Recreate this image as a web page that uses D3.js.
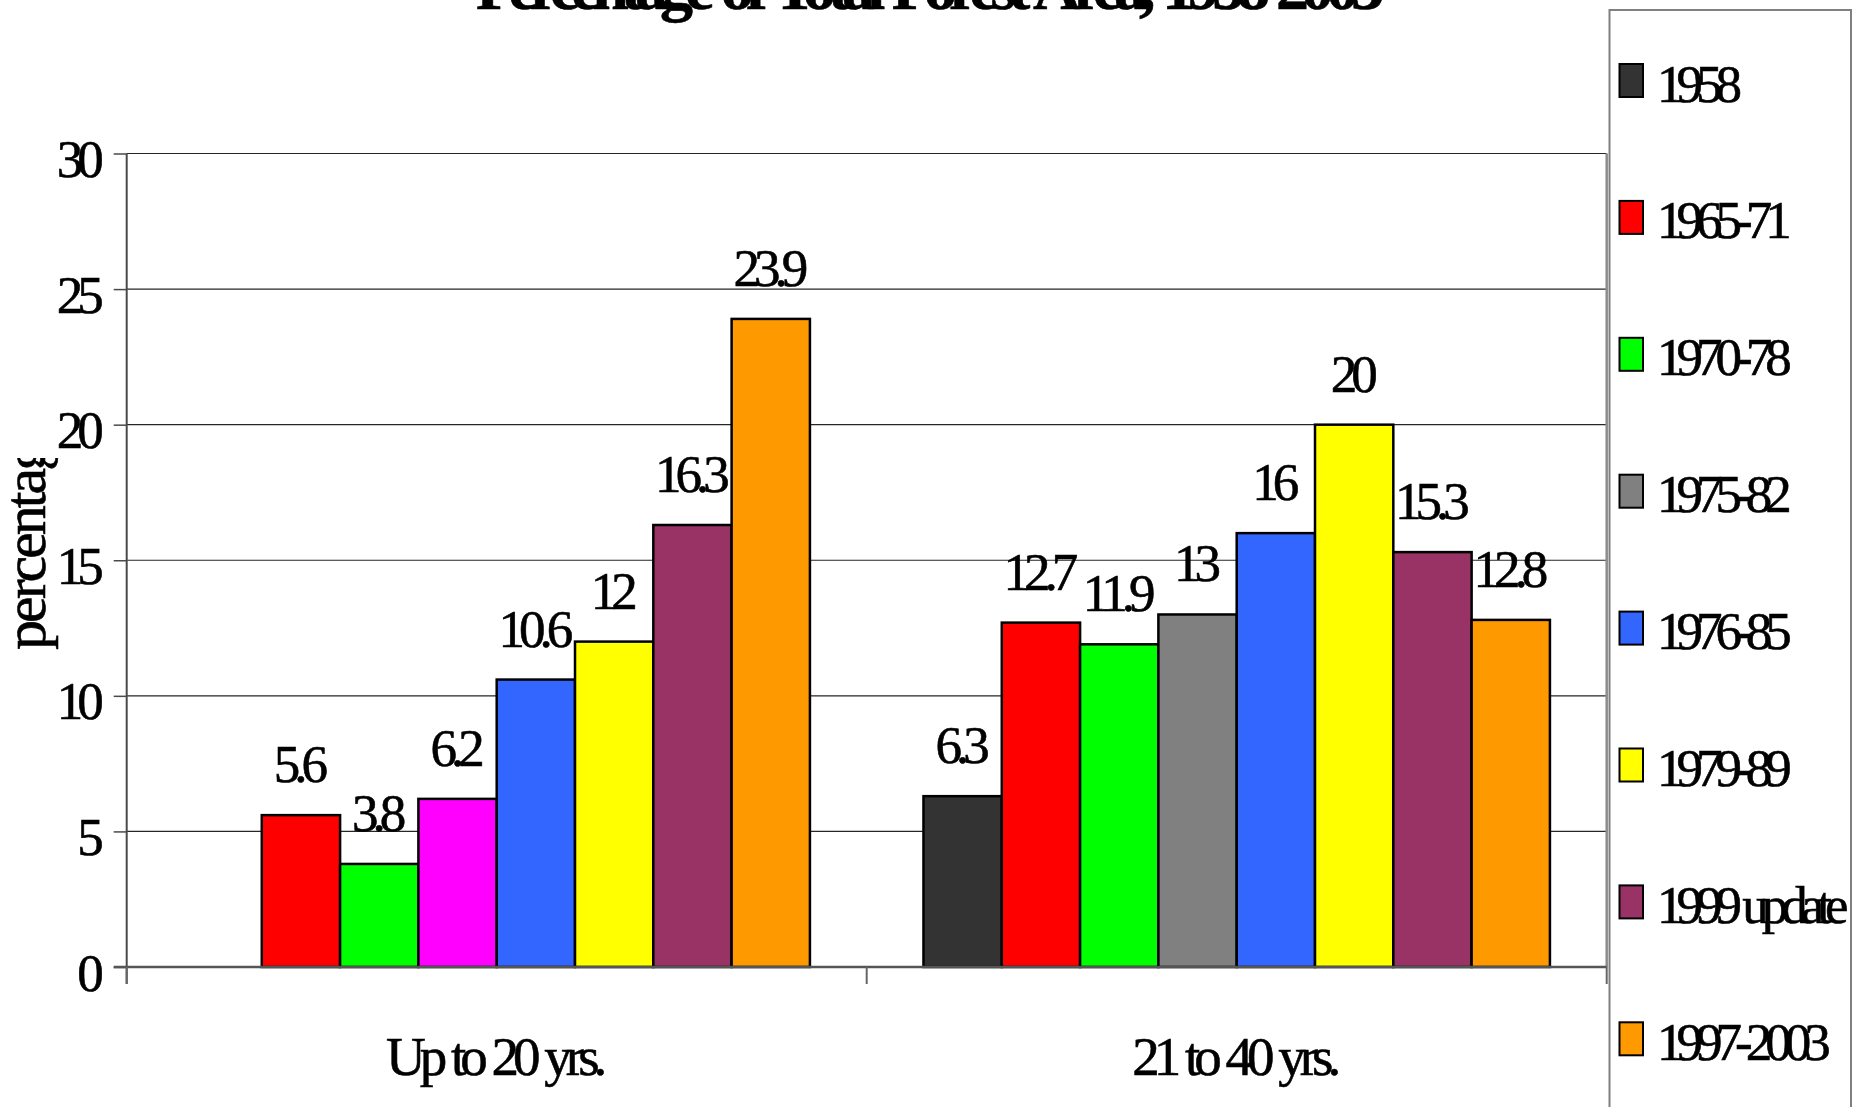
<!DOCTYPE html>
<html>
<head>
<meta charset="utf-8">
<script src="https://cdn.jsdelivr.net/npm/d3@7"></script>
<style>
  html, body { margin: 0; padding: 0; background: #ffffff; }
  svg { display: block; }
  text { font-family: "Liberation Serif", "Times New Roman", serif; fill: #000; stroke: #000; stroke-width: 0.6px; }
</style>
</head>
<body>
<svg id="chart" width="1856" height="1107"></svg>
<script>
// Forest area by age class, per inventory period
const chartTitle = "Percentage of Total Forest Area, 1958-2003";
const yAxisTitle = "percentage";
const categories = ["Up to 20 yrs.", "21 to 40 yrs."];
const seriesNames = ["1958", "1965-71", "1970-78", "1975-82", "1976-85", "1979-89", "1999 update", "1997-2003"];
const seriesColors = ["#333333", "#ff0000", "#00ff00", "#808080", "#3366ff", "#ffff00", "#993366", "#ff9900"];
const valuesUpTo20 = [null, 5.6, 3.8, 6.2, 10.6, 12, 16.3, 23.9];
const values21to40 = [6.3, 12.7, 11.9, 13, 16, 20, 15.3, 12.8];
// single point drawn in its own colour
const pointColorOverrides = [{ category: "Up to 20 yrs.", series: "1975-82", color: "#ff00ff" }];
const yTicks = [0, 5, 10, 15, 20, 25, 30];

const valuesByCategory = { "Up to 20 yrs.": valuesUpTo20, "21 to 40 yrs.": values21to40 };

const svg = d3.select("#chart");
const plot = { left: 126.7, right: 1606.7, top: 153.5, bottom: 967 };
const LS = -6;          // tight letter spacing of the labels
const FS = 53;

const y = d3.scaleLinear().domain([0, 30]).range([plot.bottom, plot.top]);
const x0 = d3.scaleBand().domain(categories).range([plot.left, plot.right]).paddingInner(0).paddingOuter(0);
const catW = x0.bandwidth();
const barW = catW / (seriesNames.length + 1.45);
const halfGap = (catW - barW * seriesNames.length) / 2;
const x1 = d3.scaleBand().domain(seriesNames).range([halfGap, catW - halfGap]).padding(0);
const colorOf = d3.scaleOrdinal().domain(seriesNames).range(seriesColors);

// gridlines
svg.append("g")
  .selectAll("line")
  .data(yTicks.filter(d => d > 0))
  .join("line")
  .attr("x1", plot.left).attr("x2", plot.right)
  .attr("y1", d => y(d)).attr("y2", d => y(d))
  .attr("stroke", "#262626").attr("stroke-width", 1.2);

// plot area right border
svg.append("line")
  .attr("x1", plot.right).attr("x2", plot.right)
  .attr("y1", plot.top).attr("y2", plot.bottom)
  .attr("stroke", "#8c8c8c").attr("stroke-width", 2.5);

// y axis
const yAxis = d3.axisLeft(y).tickValues(yTicks).tickSize(13).tickFormat(d3.format("d"));
const gy = svg.append("g").attr("transform", `translate(${plot.left},0)`).call(yAxis);
gy.select(".domain").remove();
gy.selectAll(".tick line").attr("stroke", "#4a4a4a").attr("stroke-width", 1.5);
gy.selectAll(".tick text")
  .attr("x", -29).attr("dy", null).attr("y", 23)
  .attr("font-size", FS).attr("letter-spacing", LS)
  .attr("font-family", "Liberation Serif").attr("fill", "#000");
svg.append("line")
  .attr("x1", plot.left).attr("x2", plot.left)
  .attr("y1", plot.top).attr("y2", plot.bottom + 17)
  .attr("stroke", "#4a4a4a").attr("stroke-width", 2);

// bars
const groups = svg.append("g").selectAll("g")
  .data(categories)
  .join("g")
  .attr("transform", c => `translate(${x0(c)},0)`);

const overrideColor = (c, s) => {
  const o = pointColorOverrides.find(p => p.category === c && p.series === s);
  return o ? o.color : colorOf(s);
};

const points = c => seriesNames.map((s, i) => ({ c, s, v: valuesByCategory[c][i] })).filter(d => d.v != null);

groups.selectAll("rect")
  .data(c => points(c))
  .join("rect")
  .attr("x", d => x1(d.s))
  .attr("width", x1.bandwidth())
  .attr("y", d => y(d.v))
  .attr("height", d => y(0) - y(d.v))
  .attr("fill", d => overrideColor(d.c, d.s))
  .attr("stroke", "#000").attr("stroke-width", 2.5);

groups.selectAll("text")
  .data(c => points(c))
  .join("text")
  .attr("x", d => x1(d.s) + x1.bandwidth() / 2 + LS / 2)
  .attr("y", d => y(d.v) - 33)
  .attr("text-anchor", "middle")
  .attr("font-size", FS).attr("letter-spacing", LS)
  .text(d => d.v);

// x axis
const xAxis = d3.axisBottom(x0).tickSize(0).tickFormat(d => d);
const gx = svg.append("g").attr("transform", `translate(0,${plot.bottom})`).call(xAxis);
gx.select(".domain").remove();
gx.selectAll(".tick text")
  .attr("y", 108).attr("dy", null).attr("dx", LS / 2)
  .attr("font-size", 55).attr("letter-spacing", LS).attr("word-spacing", 2)
  .attr("font-family", "Liberation Serif").attr("fill", "#000");
svg.append("line")
  .attr("x1", plot.left - 13).attr("x2", plot.right)
  .attr("y1", plot.bottom).attr("y2", plot.bottom)
  .attr("stroke", "#555").attr("stroke-width", 2.5);
svg.append("g").selectAll("line")
  .data([plot.left, ...categories.map(c => x0(c) + catW)])
  .join("line")
  .attr("x1", d => d).attr("x2", d => d)
  .attr("y1", plot.bottom).attr("y2", plot.bottom + 17)
  .attr("stroke", "#666").attr("stroke-width", 2);

// y axis title, clipped at the top
svg.append("clipPath").attr("id", "ytitle-clip")
  .append("rect").attr("x", 0).attr("y", 458).attr("width", 110).attr("height", 400);
svg.append("g")
  .attr("clip-path", "url(#ytitle-clip)")
  .append("text")
  .attr("transform", "translate(45,650) rotate(-90)")
  .attr("font-size", 60).attr("letter-spacing", -3)
  .text(yAxisTitle);

// title
svg.append("text")
  .attr("x", 930 - 4).attr("y", 9)
  .attr("text-anchor", "middle")
  .attr("font-size", 66).attr("font-weight", "bold").attr("letter-spacing", -8).attr("word-spacing", 6)
  .text(chartTitle);

// legend
const legend = { x: 1609.5, y: 10, right: 1851, h: 1120 };
svg.append("clipPath").attr("id", "legend-clip")
  .append("rect").attr("x", legend.x).attr("y", legend.y).attr("width", legend.right - legend.x).attr("height", legend.h);
svg.append("rect")
  .attr("x", legend.x).attr("y", legend.y)
  .attr("width", legend.right - legend.x).attr("height", legend.h)
  .attr("fill", "#fff").attr("stroke", "#808080").attr("stroke-width", 2);
const legendY = d3.scalePoint().domain(seriesNames).range([80.5, 80.5 + 136.9 * 7]);
const items = svg.append("g").attr("clip-path", "url(#legend-clip)")
  .selectAll("g").data(seriesNames).join("g")
  .attr("transform", s => `translate(0,${legendY(s)})`);
items.append("rect")
  .attr("x", 1619.5).attr("y", -16.5).attr("width", 23.5).attr("height", 33)
  .attr("fill", s => colorOf(s)).attr("stroke", "#000").attr("stroke-width", 2);
items.append("text")
  .attr("x", 1657).attr("y", 21)
  .attr("font-size", FS).attr("letter-spacing", -7).attr("word-spacing", 1)
  .text(s => s);
</script>
</body>
</html>
